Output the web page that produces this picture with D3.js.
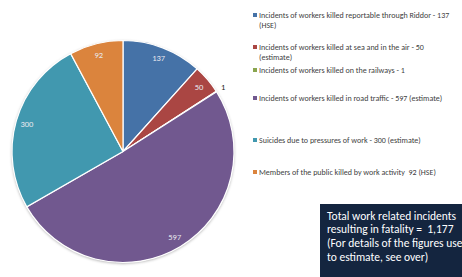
<!DOCTYPE html>
<html>
<head>
<meta charset="utf-8">
<script src="https://cdn.jsdelivr.net/npm/d3@7"></script>
<style>
  body { margin: 0; background: #fff; }
  svg { display: block; }
  text { white-space: pre; }
</style>
</head>
<body>
<svg id="chart" width="462" height="277"></svg>
<script>
// data
const categories = [
  'Incidents of workers killed reportable through Riddor - 137 (HSE)',
  'Incidents of workers killed at sea and in the air - 50 (estimate)',
  'Incidents of workers killed on the railways - 1',
  'Incidents of workers killed in road traffic - 597 (estimate)',
  'Suicides due to pressures of work - 300 (estimate)',
  'Members of the public killed by work activity  92 (HSE)'
];
const values = [137, 50, 1, 597, 300, 92];
const colors = ['#4572a7', '#aa4643', '#89a54e', '#71588f', '#4198af', '#db843d'];
const noteLines = [
  'Total work related incidents',
  'resulting in fatality =  1,177',
  '(For details of the figures use',
  'to estimate, see over)'
];

// layout
const cx = 123, cy = 151.5, radius = 111;
const legend_x = 253;
const legend_y = [15, 47, 70, 98, 140, 172];
const legend_wrap = 199;
const font = 'Carlito, "Liberation Sans Narrow", "Liberation Sans", sans-serif';

const svg = d3.select('#chart');

const defs = svg.append('defs');
const shadow = defs.append('filter').attr('id', 'shadow')
  .attr('x', '-10%').attr('y', '-10%').attr('width', '120%').attr('height', '120%');
shadow.append('feDropShadow')
  .attr('dx', 0).attr('dy', 1).attr('stdDeviation', 1.5)
  .attr('flood-color', '#000').attr('flood-opacity', 0.35);

const pie = d3.pie().sort(null).value(d => d);
const arcs = pie(values);
const arc = d3.arc().innerRadius(0).outerRadius(radius);
const labelArc = d3.arc().innerRadius(radius * 0.9).outerRadius(radius * 0.9);
const outerLabelArc = d3.arc().innerRadius(radius + 8).outerRadius(radius + 8);

const g = svg.append('g').attr('transform', `translate(${cx},${cy})`);

g.append('circle')
  .attr('r', radius)
  .attr('fill', '#fff')
  .attr('filter', 'url(#shadow)');

g.selectAll('path.slice')
  .data(arcs)
  .enter()
  .append('path')
  .attr('class', 'slice')
  .attr('d', arc)
  .attr('fill', (d, i) => colors[i])
  .attr('stroke', '#fff')
  .attr('stroke-width', 1.2);

// tiny slices get their label outside
const isSmall = d => (d.endAngle - d.startAngle) < 0.05;

g.selectAll('text.val')
  .data(arcs)
  .enter()
  .append('text')
  .attr('class', 'val')
  .attr('transform', d => `translate(${(isSmall(d) ? outerLabelArc : labelArc).centroid(d)})`)
  .attr('text-anchor', 'middle')
  .attr('dy', '0.35em')
  .attr('font-family', font)
  .attr('font-size', 8.5)
  .attr('fill', d => isSmall(d) ? '#222' : '#e8e8ee')
  .text(d => d.data);

// legend
const lg = svg.append('g')
  .attr('font-family', font)
  .attr('font-size', 8)
  .attr('fill', '#404040');

const items = lg.selectAll('g.item')
  .data(categories)
  .enter()
  .append('g')
  .attr('class', 'item')
  .attr('transform', (d, i) => `translate(${legend_x},${legend_y[i]})`);

items.append('rect')
  .attr('x', 0).attr('y', -2)
  .attr('width', 4).attr('height', 4)
  .attr('fill', (d, i) => colors[i]);

items.each(function(d) {
  const t = d3.select(this).append('text').attr('x', 6).attr('y', 3);
  const words = d.split(' ');
  let line = [];
  let tspan = t.append('tspan').attr('x', 6).attr('dy', 0);
  words.forEach(w => {
    line.push(w);
    tspan.text(line.join(' '));
    if (tspan.node().getComputedTextLength() > legend_wrap && line.length > 1) {
      line.pop();
      tspan.text(line.join(' '));
      line = [w];
      tspan = t.append('tspan').attr('x', 6).attr('dy', 10).text(w);
    }
  });
});

// note box
const box = svg.append('g').attr('transform', 'translate(320,204)');
box.append('rect')
  .attr('width', 150).attr('height', 80)
  .attr('fill', '#14253f');
box.append('text')
  .attr('font-family', font)
  .attr('font-size', 11.5)
  .attr('fill', '#fff')
  .selectAll('tspan')
  .data(noteLines)
  .enter()
  .append('tspan')
  .attr('x', 7)
  .attr('y', (d, i) => 15.5 + i * 13.7)
  .text(d => d);
</script>
</body>
</html>
